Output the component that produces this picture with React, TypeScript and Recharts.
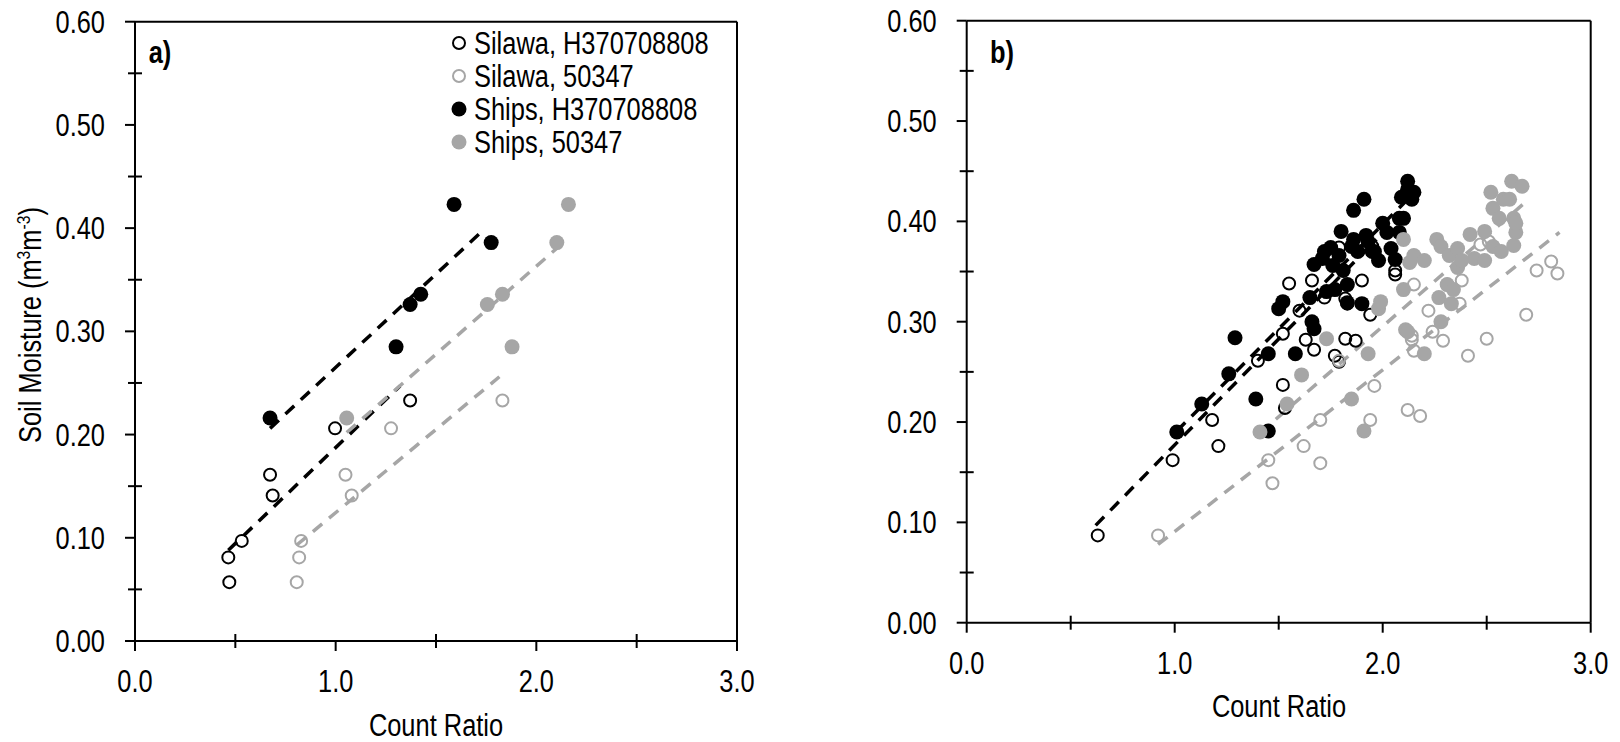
import { ScatterChart, Scatter, XAxis, YAxis, ReferenceLine, Legend } from "recharts";

// axis ticks (majors labelled, minors unlabelled)
const xTicks = [0, 0.5, 1, 1.5, 2, 2.5, 3];
const yTicks = [0, 0.05, 0.1, 0.15, 0.2, 0.25, 0.3, 0.35, 0.4, 0.45, 0.5, 0.55, 0.6];

const seriesNames = ["Silawa, H370708808", "Silawa, 50347", "Ships, H370708808", "Ships, 50347"];

// panel a) points [count ratio, soil moisture]
const aSilawaH = [[0.47, 0.057], [0.465, 0.081], [0.532, 0.097], [0.673, 0.161], [0.686, 0.141], [0.997, 0.206], [1.371, 0.233]];
const aSilawa50347 = [[0.806, 0.057], [0.818, 0.081], [0.828, 0.097], [1.049, 0.161], [1.08, 0.141], [1.276, 0.206], [1.831, 0.233]];
const aShipsH = [[0.673, 0.216], [1.301, 0.285], [1.371, 0.326], [1.424, 0.336], [1.59, 0.423], [1.775, 0.386]];
const aShips50347 = [[1.055, 0.216], [1.879, 0.285], [1.756, 0.326], [1.831, 0.336], [2.16, 0.423], [2.102, 0.386]];

// panel a) trend line end points
const aTrendSilawaH = [[0.465, 0.088], [1.321, 0.247]];
const aTrendSilawa50347 = [[0.806, 0.093], [1.816, 0.256]];
const aTrendShipsH = [[0.673, 0.206], [1.741, 0.399]];
const aTrendShips50347 = [[1.055, 0.202], [2.152, 0.389]];

// panel b) points
const bSilawaH = [[0.63, 0.087], [0.99, 0.162], [1.18, 0.202], [1.21, 0.176], [1.4, 0.261], [1.52, 0.237], [1.53, 0.214], [1.52, 0.288], [1.55, 0.338], [1.6, 0.311], [1.63, 0.282], [1.67, 0.272], [1.66, 0.341], [1.72, 0.324], [1.77, 0.266], [1.79, 0.26], [1.79, 0.374], [1.82, 0.283], [1.82, 0.323], [1.83, 0.318], [1.87, 0.281], [1.9, 0.341], [1.94, 0.307], [1.95, 0.375], [2.06, 0.351], [2.06, 0.347]];
const bSilawa50347 = [[0.92, 0.087], [1.45, 0.162], [1.47, 0.139], [1.62, 0.176], [1.7, 0.202], [1.7, 0.159], [1.94, 0.202], [1.96, 0.236], [2.12, 0.212], [2.18, 0.206], [1.79, 0.261], [2.14, 0.282], [2.14, 0.286], [2.15, 0.271], [2.15, 0.337], [2.22, 0.311], [2.24, 0.29], [2.29, 0.281], [2.31, 0.337], [2.38, 0.341], [2.37, 0.318], [2.41, 0.266], [2.5, 0.283], [2.69, 0.307], [2.74, 0.351], [2.81, 0.36], [2.84, 0.348], [2.51, 0.38], [2.47, 0.377]];
const bShipsH = [[1.01, 0.19], [1.13, 0.218], [1.26, 0.248], [1.29, 0.284], [1.39, 0.223], [1.45, 0.191], [1.45, 0.268], [1.5, 0.313], [1.52, 0.32], [1.58, 0.268], [1.65, 0.324], [1.66, 0.3], [1.67, 0.293], [1.67, 0.357], [1.71, 0.363], [1.72, 0.37], [1.73, 0.33], [1.75, 0.374], [1.76, 0.356], [1.77, 0.332], [1.79, 0.366], [1.8, 0.39], [1.81, 0.351], [1.83, 0.337], [1.83, 0.319], [1.85, 0.375], [1.86, 0.411], [1.86, 0.382], [1.88, 0.37], [1.9, 0.318], [1.91, 0.422], [1.92, 0.386], [1.93, 0.38], [1.95, 0.37], [1.96, 0.37], [1.98, 0.361], [2.0, 0.398], [2.02, 0.389], [2.04, 0.373], [2.06, 0.362], [2.08, 0.403], [2.08, 0.389], [2.09, 0.424], [2.1, 0.403], [2.12, 0.44], [2.12, 0.432], [2.14, 0.422], [2.15, 0.429]];
const bShips50347 = [[1.41, 0.19], [1.54, 0.218], [1.61, 0.247], [1.73, 0.283], [1.85, 0.223], [1.91, 0.191], [1.93, 0.268], [1.98, 0.313], [1.99, 0.32], [2.1, 0.332], [2.11, 0.292], [2.12, 0.29], [2.2, 0.268], [2.1, 0.382], [2.13, 0.359], [2.15, 0.366], [2.2, 0.361], [2.26, 0.382], [2.28, 0.375], [2.27, 0.324], [2.28, 0.3], [2.31, 0.337], [2.32, 0.366], [2.33, 0.318], [2.34, 0.332], [2.36, 0.373], [2.36, 0.354], [2.38, 0.361], [2.42, 0.387], [2.44, 0.363], [2.49, 0.39], [2.49, 0.361], [2.52, 0.429], [2.53, 0.413], [2.53, 0.375], [2.56, 0.403], [2.57, 0.37], [2.58, 0.422], [2.61, 0.422], [2.62, 0.44], [2.63, 0.403], [2.64, 0.389], [2.63, 0.376], [2.64, 0.398], [2.67, 0.435]];

// panel b) trend line end points
const bTrendSilawaH = [[0.62, 0.097], [1.97, 0.382]];
const bTrendSilawa50347 = [[0.92, 0.078], [2.85, 0.389]];
const bTrendShipsH = [[1.01, 0.191], [2.12, 0.422]];
const bTrendShips50347 = [[1.41, 0.189], [2.68, 0.418]];

const BLACK = "#000000";
const GRAY = "#a6a6a6";
const FONT = "'Liberation Sans', Arial, sans-serif";
const FS = 31;
const NARROW = 0.82; // squeeze to mimic a narrow face

const toPts = (arr: number[][]) => arr.map(([x, y]) => ({ x, y }));
const toSeg = (arr: number[][]) => arr.map(([x, y]) => ({ x, y })) as any;

const openDot = (color: string) => (p: any) =>
  <circle cx={p.cx} cy={p.cy} r={6} fill="none" stroke={color} strokeWidth={2} />;
const filledDot = (color: string) => (p: any) =>
  <circle cx={p.cx} cy={p.cy} r={7.5} fill={color} />;

function SvgLabel({ x, y, anchor, children }: any) {
  return (
    <text
      transform={`translate(${x},${y}) scale(${NARROW},1)`}
      textAnchor={anchor}
      dominantBaseline="central"
      fontSize={FS}
      fontFamily={FONT}
      fill={BLACK}
    >
      {children}
    </text>
  );
}

function YTick({ x, y, payload }: any) {
  const v = payload.value;
  const major = Math.round(v * 100) % 10 === 0;
  return (
    <g>
      <line x1={major ? x - 10 : x - 7} x2={major ? x : x + 7} y1={y} y2={y} stroke={BLACK} strokeWidth={2} />
      {major && <SvgLabel x={x - 30} y={y} anchor="end">{v.toFixed(2)}</SvgLabel>}
    </g>
  );
}

function XTick({ x, y, payload }: any) {
  const v = payload.value;
  const major = Math.round(v * 10) % 10 === 0;
  return (
    <g>
      <line x1={x} x2={x} y1={major ? y : y - 7} y2={major ? y + 10 : y + 7} stroke={BLACK} strokeWidth={2} />
      {major && <SvgLabel x={x} y={y + 40} anchor="middle">{v.toFixed(1)}</SvgLabel>}
    </g>
  );
}

function LegendBox() {
  const kinds = [
    { color: BLACK, filled: false },
    { color: GRAY, filled: false },
    { color: BLACK, filled: true },
    { color: GRAY, filled: true },
  ];
  return (
    <div style={{ fontFamily: FONT, fontSize: FS, color: BLACK, lineHeight: 1 }}>
      {seriesNames.map((n, i) => (
        <div key={n} style={{ display: "flex", alignItems: "center", height: 33, whiteSpace: "nowrap" }}>
          <svg width={16} height={16} style={{ marginRight: 6.5 }}>
            {kinds[i].filled ? (
              <circle cx={8} cy={8} r={7.5} fill={kinds[i].color} />
            ) : (
              <circle cx={8} cy={8} r={6} fill="none" stroke={kinds[i].color} strokeWidth={2} />
            )}
          </svg>
          <span style={{ display: "inline-block", transform: `scaleX(${NARROW})`, transformOrigin: "left center" }}>{n}</span>
        </div>
      ))}
    </div>
  );
}

type PanelProps = {
  left: number;
  margin: { top: number; right: number; bottom: number; left: number };
  silawaH: number[][];
  silawa50347: number[][];
  shipsH: number[][];
  ships50347: number[][];
  trends: number[][][];
  withLegend?: boolean;
};

const trendColors = [BLACK, GRAY, BLACK, GRAY];

function Panel({ left, margin, silawaH, silawa50347, shipsH, ships50347, trends, withLegend }: PanelProps) {
  return (
    <div style={{ position: "absolute", left, top: 0 }}>
      <ScatterChart width={800} height={742} margin={margin}>
        <XAxis
          type="number"
          dataKey="x"
          domain={[0, 3]}
          ticks={xTicks}
          interval={0}
          height={40}
          tickSize={0}
          tickMargin={0}
          tick={<XTick />}
          axisLine={{ stroke: BLACK, strokeWidth: 2 }}
        />
        <YAxis
          type="number"
          dataKey="y"
          domain={[0, 0.6]}
          ticks={yTicks}
          interval={0}
          width={80}
          tickSize={0}
          tickMargin={0}
          tick={<YTick />}
          axisLine={{ stroke: BLACK, strokeWidth: 2 }}
        />
        <ReferenceLine y={0.6} stroke={BLACK} strokeWidth={2} />
        <ReferenceLine x={3} stroke={BLACK} strokeWidth={2} />
        <Scatter name={seriesNames[0]} data={toPts(silawaH)} shape={openDot(BLACK)} isAnimationActive={false} />
        <Scatter name={seriesNames[1]} data={toPts(silawa50347)} shape={openDot(GRAY)} isAnimationActive={false} />
        <Scatter name={seriesNames[2]} data={toPts(shipsH)} shape={filledDot(BLACK)} isAnimationActive={false} />
        <Scatter name={seriesNames[3]} data={toPts(ships50347)} shape={filledDot(GRAY)} isAnimationActive={false} />
        {trends.map((t, i) => (
          <ReferenceLine
            key={i}
            segment={toSeg(t)}
            stroke={trendColors[i]}
            strokeWidth={3.5}
            strokeDasharray="12 9"
            ifOverflow="visible"
          />
        ))}
        {withLegend && (
          <Legend
            layout="vertical"
            align="center"
            verticalAlign="middle"
            wrapperStyle={{ left: 451, top: 26.5, width: "auto", height: "auto" }}
            content={() => <LegendBox />}
          />
        )}
      </ScatterChart>
    </div>
  );
}

const textStyle = { position: "absolute" as const, fontFamily: FONT, fontSize: FS, color: BLACK, whiteSpace: "nowrap" as const, lineHeight: 1 };

export default function App() {
  return (
    <div style={{ position: "absolute", left: 0, top: 0, width: 1620, height: 742, background: "#fff", overflow: "hidden" }}>
      <Panel
        left={0}
        margin={{ top: 21.7, right: 63, bottom: 61, left: 55 }}
        silawaH={aSilawaH}
        silawa50347={aSilawa50347}
        shipsH={aShipsH}
        ships50347={aShips50347}
        trends={[aTrendSilawaH, aTrendSilawa50347, aTrendShipsH, aTrendShips50347]}
        withLegend
      />
      <Panel
        left={820}
        margin={{ top: 20.7, right: 29.3, bottom: 79.3, left: 66.7 }}
        silawaH={bSilawaH}
        silawa50347={bSilawa50347}
        shipsH={bShipsH}
        ships50347={bShips50347}
        trends={[bTrendSilawaH, bTrendSilawa50347, bTrendShipsH, bTrendShips50347]}
      />
      {/* axis titles and panel tags */}
      <div style={{ ...textStyle, left: 30, top: 325, transform: `translate(-50%, -50%) rotate(-90deg) scaleX(${NARROW})` }}>
        Soil Moisture (m<sup style={{ fontSize: "0.62em" }}>3</sup>m<sup style={{ fontSize: "0.62em" }}>-3</sup>)
      </div>
      <div style={{ ...textStyle, left: 436, top: 726, lineHeight: 0.8, transform: `translate(-50%, -50%) scaleX(${NARROW})` }}>Count Ratio</div>
      <div style={{ ...textStyle, left: 1279, top: 706, transform: `translate(-50%, -50%) scaleX(${NARROW})` }}>Count Ratio</div>
      <div style={{ ...textStyle, left: 160, top: 52, fontWeight: "bold", transform: `translate(-50%, -50%) scaleX(${NARROW})` }}>a)</div>
      <div style={{ ...textStyle, left: 1002, top: 52, fontWeight: "bold", transform: `translate(-50%, -50%) scaleX(${NARROW})` }}>b)</div>
    </div>
  );
}
